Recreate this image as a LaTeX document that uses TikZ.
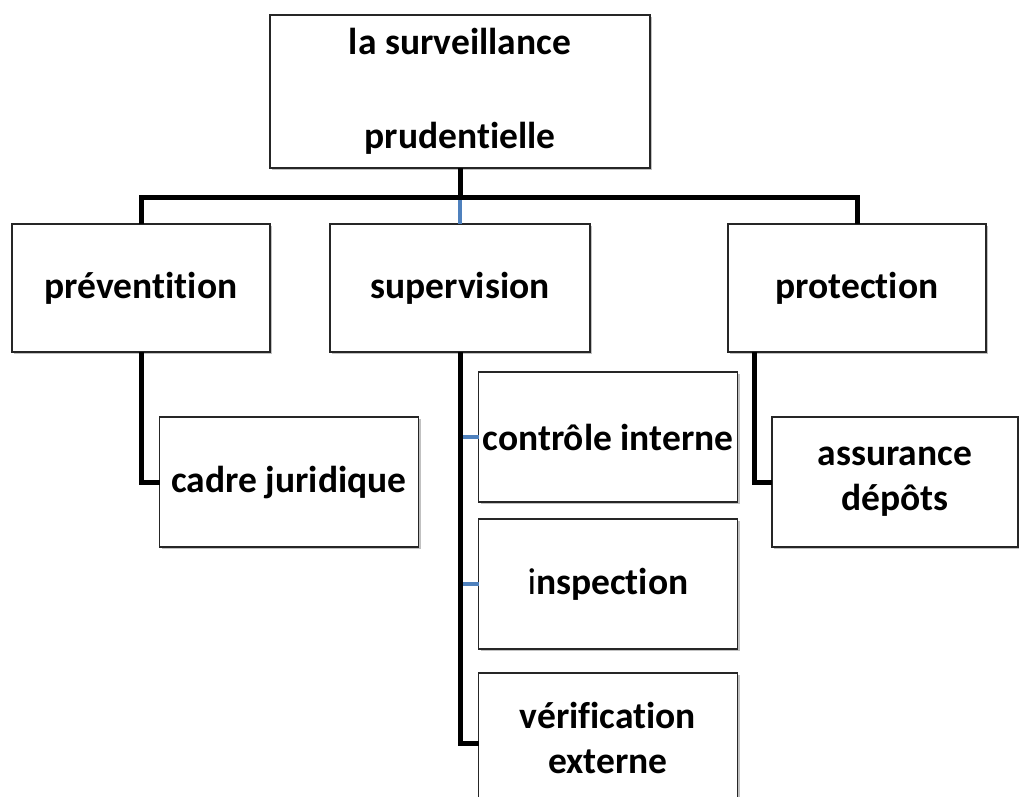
\documentclass[tikz,border=0pt]{standalone}
\usepackage{fontspec}
\setmainfont{Carlito}[Ligatures={NoCommon,NoRequired,NoContextual}]
\usetikzlibrary{positioning, shadows}
\definecolor{linkblue}{RGB}{79,129,189}
\tikzset{%
  bx/.style={draw=black!85, line width=1.8pt, fill=white, outer sep=0pt, inner sep=2pt,
    minimum width=259pt, minimum height=130pt, align=center,
    font=\bfseries\fontsize{37.5}{45}\selectfont,
    drop shadow={shadow xshift=2pt, shadow yshift=-2pt, opacity=0.35, fill=black!70}},
  lvl/.style={bx, minimum width=258pt, minimum height=128pt},
  ln/.style={line width=5pt, black},
  lnb/.style={line width=3.5pt, linkblue}
}
\begin{document}
\begin{tikzpicture}[x=1pt, y=1pt]
        \useasboundingbox (0,0) rectangle (1019,-796);
        \clip (0,0) rectangle (1019,-796);
        \node[bx, minimum width=380pt, minimum height=153pt] (top) at (460,-91.5)
              {la surveillance\\[49pt]prudentielle};
        \node[lvl] (prev)  [below left  = 56pt and 0pt  of top] {préventition};
        \node[lvl] (sup)   [below       = 56pt of top, minimum width=260pt] {supervision};
        \node[lvl] (prot)  [below right = 56pt and 78pt of top] {protection};
        \node[bx]  (cadre) [below = 65pt of prev, xshift=148pt] {cadre juridique};
        \node[bx]  (ctrl)  [below = 20pt of sup,  xshift=148pt] {contrôle interne};
        \node[bx]  (insp)  [below = 17pt of ctrl]               {{\mdseries i}nspection};
        \node[bx]  (verif) [below = 24pt of insp]               {vérification\\externe};
        \node[bx, minimum width=246pt] (assur) [below = 65pt of prot, xshift=38pt] {assurance\\dépôts};
        \coordinate (bar) at ([yshift=-29pt]top.south);
        \draw[lnb] (bar) -- (sup.north);
        \draw[lnb] (ctrl.west) -- (ctrl.west -| sup.south);
        \draw[lnb] (insp.west) -- (insp.west -| sup.south);
        \draw[ln] (top.south) -- (bar);
        \draw[ln] (prev.north) |- (bar) -| (prot.north);
        \draw[ln] (prev.south) |- (cadre.west);
        \draw[ln] (sup.south) |- ([yshift=-5pt]verif.west);
        \draw[ln] ([xshift=26pt]prot.south west) |- (assur.west);
      \end{tikzpicture}
\end{document}
